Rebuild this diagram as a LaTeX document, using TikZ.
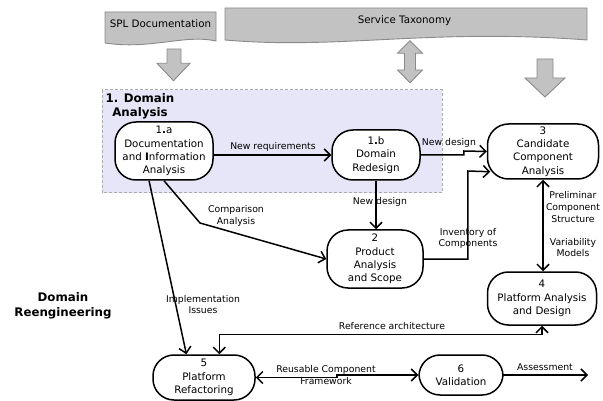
\documentclass[tikz,border=0pt]{standalone}
\usepackage{fontspec}
\setmainfont{DejaVu Sans}
\usetikzlibrary{arrows.meta,calc}
\definecolor{docgray}{HTML}{C2C2C2}
\definecolor{docedge}{HTML}{8A8A8A}
\definecolor{zonefill}{HTML}{E6E6F8}
\definecolor{zoneedge}{HTML}{ABABAB}
\begin{document}
\begin{tikzpicture}[x=1pt,y=-1pt,
  proc/.style={draw, fill=white, line width=1.5pt, rounded corners=21pt, align=center,
    font=\fontsize{10.3}{13.3}\selectfont, inner sep=0pt},
  flow/.style={line width=1.5pt, -{Straight Barb[length=6pt,width=12pt]}},
  flowboth/.style={line width=1.5pt, {Straight Barb[length=6pt,width=12pt]}-{Straight Barb[length=6pt,width=12pt]}},
  lbl/.style={align=center, font=\fontsize{9.3}{11.7}\selectfont, inner sep=0pt},
  docshape/.style={fill=docgray, draw=docedge, line width=0.9pt},
  blockarrow/.style={fill=docgray, draw=docedge, line width=0.9pt, line join=miter},
  heading/.style={align=center, font=\fontsize{11.8}{13.5}\selectfont\bfseries, inner sep=0pt}
]
\useasboundingbox (0,0) rectangle (603,401);

% source documents
\draw[docshape] (105,12) -- (216,12) -- (216,41)
  .. controls (185,34) and (150,50) .. (105,43) -- cycle;
\node[font=\fontsize{10.3}{12}\selectfont, inner sep=0pt] (spl) at (160.5,24) {SPL Documentation};
\draw[docshape] (225,8) -- (587,8) -- (587,40)
  .. controls (430,28) and (340,50) .. (225,40) -- cycle;
\node[font=\fontsize{10.3}{12}\selectfont, inner sep=0pt] (tax) at (404.5,21) {Service Taxonomy};

% block arrows
\draw[blockarrow] (167,49) -- (181,49) -- (181,63.3) -- (190,63.3) -- (173.5,80.7)
  -- (157,63.3) -- (167,63.3) -- cycle;
\draw[blockarrow] (410,40.7) -- (422.5,53.3) -- (415.5,53.3) -- (415.5,70) -- (422.5,70)
  -- (410,82.7) -- (397.5,70) -- (404.5,70) -- (404.5,53.3) -- (397.5,53.3) -- cycle;
\draw[blockarrow] (537,59) -- (553,59) -- (553,78) -- (565,78) -- (545,97)
  -- (525,78) -- (537,78) -- cycle;

% domain analysis zone
\draw[fill=zonefill, draw=zoneedge, line width=1pt, dash pattern=on 3pt off 2pt]
  (102,90) rectangle (442,193);
\node[heading] (zonetitle) at (140,106.5) {1. Domain\\Analysis};
\node[heading, font=\fontsize{11.8}{15}\selectfont\bfseries] (reeng) at (63,305.5) {Domain\\Reengineering};

% process steps
\node[proc, minimum width=98pt, minimum height=58pt] (a1) at (164,151)
  {1{\bfseries .}a\\Documentation\\and {\bfseries I}nformation\\Analysis};
\node[proc, minimum width=88pt, minimum height=50pt] (b1) at (376,155)
  {1{\bfseries .}b\\Domain\\Redesign};
\node[proc, minimum width=111pt, minimum height=55pt] (c3) at (543,151.5)
  {3\\Candidate\\Component\\Analysis};
\node[proc, minimum width=96pt, minimum height=58pt] (n2) at (375,259)
  {2\\Product\\Analysis\\and Scope};
\node[proc, minimum width=109pt, minimum height=53pt] (d4) at (542,298.5)
  {4\\Platform Analysis\\and Design};
\node[proc, minimum width=102pt, minimum height=45pt] (r5) at (204,377.5)
  {5\\Platform\\Refactoring};
\node[proc, minimum width=84pt, minimum height=40pt] (v6) at (461,375)
  {6\\Validation};
\coordinate (out) at (588,375);

% connectors
\draw[flow] (a1.east |- b1.west) -- (b1.west);
\node[lbl] (l1) at (273,147) {New requirements};

\draw[flow] (b1.east) -- ++(43,0) -- ++(0,-4) -- (c3.west);
\node[lbl] (l2) at (449,143) {New design};

\draw[flow] (b1.south) -- (b1.south |- n2.north);
\node[lbl] (l3) at (380,202) {New design};

\draw[flow] (n2.east) -- ++(44,0) -- ++(0,-88) -- ($(c3.south west)+(3.5,-8)$);
\node[lbl] (l4) at (468,238.5) {Inventory of\\Components};

\draw[flowboth] (c3.south) -- (c3.south |- d4.north);
\node[lbl] (l5) at (573,207) {Preliminar\\Component\\Structure};
\node[lbl] (l6) at (573,247.5) {Variability\\Models};

\draw[flow] ($(a1.south west)!0.35!(a1.south east)$) -- ($(r5.north west)!0.33!(r5.north east)$);
\node[lbl] (l7) at (203,304.5) {Implementation\\Issues};

\draw[flow] (a1.south) -- (200,223) -- (n2.west);
\node[lbl] (l8) at (236,216) {Comparison\\Analysis};

\draw[flowboth] (d4.south) |- ($(r5.north west)+(67,-20)$) -- ($(r5.north west)+(67,0)$);
\node[lbl] (l9) at (392,326) {Reference architecture};

\draw[flowboth] (r5.east) -- (337,377.5) -- (337,375) -- (v6.west);
\node[lbl] (l10) at (326,375) {Reusable Component\\Framework};

\draw[flow] (v6.east) -- (out);
\node[lbl] (l11) at (545,367) {Assessment};
\end{tikzpicture}
\end{document}
